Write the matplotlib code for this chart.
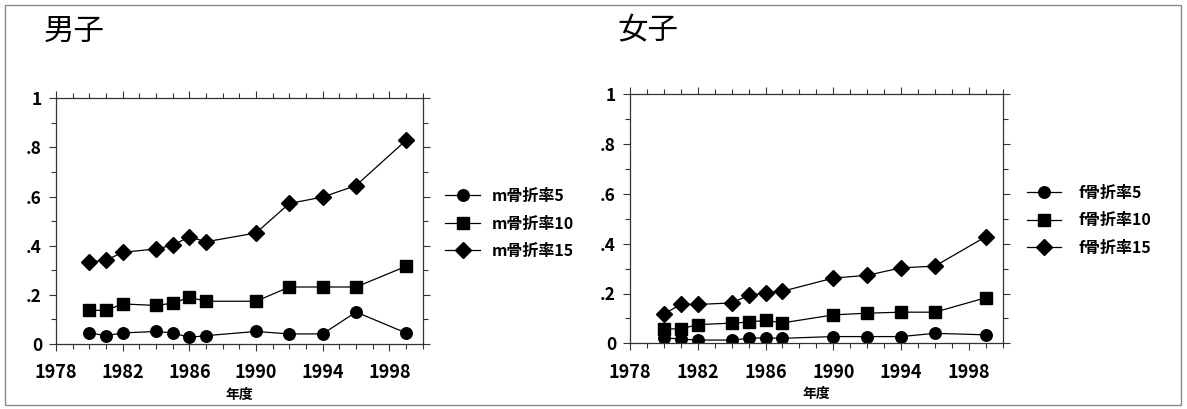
import matplotlib
matplotlib.use("Agg")
import matplotlib.pyplot as plt
from matplotlib.ticker import MultipleLocator, FixedLocator, FuncFormatter
from matplotlib.patches import Rectangle

plt.rcParams['font.family'] = ['Noto Sans CJK JP', 'DejaVu Sans']

years = [1980, 1981, 1982, 1984, 1985, 1986, 1987, 1990, 1992, 1994, 1996, 1999]

# 男子
m5 = [0.045, 0.034, 0.045, 0.051, 0.045, 0.027, 0.034, 0.051, 0.041, 0.041, 0.130, 0.045]
m10 = [0.137, 0.137, 0.163, 0.157, 0.166, 0.190, 0.174, 0.174, 0.232, 0.232, 0.232, 0.316]
m15 = [0.334, 0.341, 0.373, 0.387, 0.402, 0.436, 0.416, 0.452, 0.572, 0.598, 0.645, 0.829]

# 女子
f5 = [0.022, 0.017, 0.013, 0.013, 0.020, 0.022, 0.020, 0.027, 0.027, 0.027, 0.040, 0.034]
f10 = [0.058, 0.058, 0.075, 0.081, 0.085, 0.092, 0.082, 0.114, 0.121, 0.125, 0.125, 0.183]
f15 = [0.118, 0.156, 0.156, 0.162, 0.192, 0.202, 0.209, 0.262, 0.273, 0.303, 0.310, 0.428]

m_labels = ['m骨折率5', 'm骨折率10', 'm骨折率15']
f_labels = ['f骨折率5', 'f骨折率10', 'f骨折率15']

W, H = 1187, 409
fig = plt.figure(figsize=(W / 100, H / 100), dpi=100)

# thin frame round the whole page
fig.patches.append(Rectangle((5 / W, 4 / H), 1176 / W, 400 / H, transform=fig.transFigure,
                             fill=False, edgecolor='#8a8a8a', linewidth=1.0))


def yfmt(v, pos):
    if abs(v) < 1e-9:
        return '0'
    if abs(v - 1) < 1e-9:
        return '1'
    return ('%.1f' % v).lstrip('0')


def panel(rect, series, labels, title, title_x, leg):
    ax = fig.add_axes(rect)
    styles = [('o', 8.3), ('s', 9), ('D', 8)]
    for vals, lab, (mk, ms) in zip(series, labels, styles):
        ax.plot(years, vals, color='black', linewidth=0.9, marker=mk, markersize=ms,
                markerfacecolor='black', markeredgecolor='black', label=lab)
    ax.set_xlim(1978, 2000)
    ax.set_ylim(0, 1)
    ax.xaxis.set_major_locator(FixedLocator([1978, 1982, 1986, 1990, 1994, 1998]))
    ax.xaxis.set_minor_locator(MultipleLocator(1))
    ax.yaxis.set_major_locator(MultipleLocator(0.2))
    ax.yaxis.set_minor_locator(MultipleLocator(0.1))
    ax.yaxis.set_major_formatter(FuncFormatter(yfmt))
    ax.tick_params(which='both', direction='out', top=True, right=True, width=0.8, color='#333333')
    ax.tick_params(which='major', length=5)
    ax.tick_params(which='minor', length=3.5)
    ax.tick_params(axis='x', which='major', pad=9, labelsize=13)
    ax.tick_params(axis='y', which='major', pad=5, labelsize=12.5)
    for t in ax.get_xticklabels() + ax.get_yticklabels():
        t.set_fontweight('bold')
    for s in ax.spines.values():
        s.set_linewidth(0.9)
        s.set_color('#333333')
    ax.set_xlabel('年度', fontsize=10, fontweight='bold', labelpad=4)
    fig.text(title_x / W, 1 - 31 / H, title, fontsize=22, va='center', ha='left')
    hx, hy, hlen, hpad = leg
    ax.legend(loc='upper left', bbox_to_anchor=(hx / W, 1 - hy / H), bbox_transform=fig.transFigure,
              frameon=False, borderpad=0, borderaxespad=0, handlelength=hlen,
              handletextpad=hpad, labelspacing=0.72,
              prop={'size': 11.5, 'weight': 'bold'})
    return ax


panel([56 / W, 65 / H, 366.7 / W, 245.7 / H], [m5, m10, m15], m_labels, '男子', 44,
      (445, 188, 2.2, 0.75))
panel([630 / W, 65.7 / H, 372.7 / W, 249 / H], [f5, f10, f15], f_labels, '女子', 617,
      (1027, 185, 2.15, 1.1))

fig.savefig('out.png', dpi=100, facecolor='white')
